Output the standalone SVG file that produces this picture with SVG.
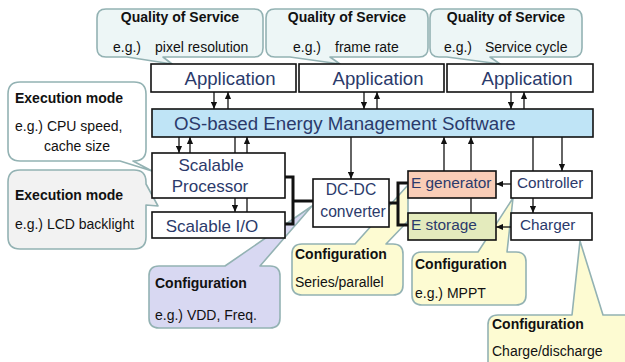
<svg xmlns="http://www.w3.org/2000/svg" width="625" height="362" viewBox="0 0 625 362">
<style>
.co{stroke:#93b2b3;stroke-width:1.6;stroke-linejoin:round}
.qos{fill:#edf6f6}
.ylw{fill:#fdfbd2}
.box{fill:#fff;stroke:#111;stroke-width:1.6}
.bt{font-family:"Liberation Sans",Arial,sans-serif;fill:#2b3a6b}
.ct{font-family:"Liberation Sans",Arial,sans-serif;fill:#111;font-size:14px}
.b{font-weight:bold}
.ln{stroke:#111;stroke-width:1.3;fill:none}
.th{stroke:#111;stroke-width:3;fill:none;stroke-linejoin:miter}
</style>
<defs>
<marker id="ah" viewBox="0 0 8 8" refX="8" refY="4" markerWidth="7" markerHeight="7" markerUnits="userSpaceOnUse" orient="auto">
<path d="M0,0.5 L8,4 L0,7.5 Z" fill="#111"/>
</marker>
</defs>

<g id="callouts">
<g id="qos1">
<path class="co qos" d="M106,9 H254 Q263,9 263,18 V48 Q263,57 254,57 H163 L172,64 L127,57 H106 Q97,57 97,48 V18 Q97,9 106,9 Z"/>
<text class="ct b" x="180" y="22" text-anchor="middle">Quality of Service</text>
<text class="ct" y="52"><tspan x="113">e.g.)</tspan><tspan x="155">pixel resolution</tspan></text>
</g>
<g id="qos2">
<path class="co qos" d="M275,9 H419 Q428,9 428,18 V48 Q428,57 419,57 H330 L340,64 L290,57 H275 Q266,57 266,48 V18 Q266,9 275,9 Z"/>
<text class="ct b" x="347" y="22" text-anchor="middle">Quality of Service</text>
<text class="ct" y="52"><tspan x="293">e.g.)</tspan><tspan x="335">frame rate</tspan></text>
</g>
<g id="qos3">
<path class="co qos" d="M439,9 H573 Q582,9 582,18 V48 Q582,57 573,57 H490 L500,64 L447,57 H439 Q430,57 430,48 V18 Q430,9 439,9 Z"/>
<text class="ct b" x="506" y="22" text-anchor="middle">Quality of Service</text>
<text class="ct" y="52"><tspan x="444">e.g.)</tspan><tspan x="485">Service cycle</tspan></text>
</g>
<g id="exec1">
<path class="co" fill="#fff" d="M20,82 H134 Q146,82 146,94 V149 Q146,161 134,161 H133 L152,171 L120,161 H20 Q8,161 8,149 V94 Q8,82 20,82 Z"/>
<text class="ct b" x="15" y="103">Execution mode</text>
<text class="ct" x="15" y="131">e.g.) CPU speed,</text>
<text class="ct" x="44" y="151">cache size</text>
</g>
<g id="exec2">
<path class="co" fill="#f2f2f2" d="M20,170 H134 Q146,170 146,182 V184 L158,206 L146,205 V237 Q146,249 134,249 H20 Q8,249 8,237 V182 Q8,170 20,170 Z"/>
<text class="ct b" x="15" y="200">Execution mode</text>
<text class="ct" x="15" y="229">e.g.) LCD backlight</text>
</g>
<g id="cfg-vdd">
<path class="co" fill="#d8d8f2" d="M159,266 H225 L312,206 L260,266 H270 Q280,266 280,276 V318 Q280,328 270,328 H159 Q149,328 149,318 V276 Q149,266 159,266 Z"/>
<text class="ct b" x="155" y="288">Configuration</text>
<text class="ct" x="155" y="320">e.g.) VDD, Freq.</text>
</g>
<g id="cfg-series">
<path class="co ylw" d="M302,244 H355 L408,185 L408,221 L386,244 H393 Q403,244 403,254 V285 Q403,295 393,295 H302 Q292,295 292,285 V254 Q292,244 302,244 Z"/>
<text class="ct b" x="295" y="259">Configuration</text>
<text class="ct" x="295" y="287">Series/parallel</text>
</g>
<g id="cfg-mppt">
<path class="co ylw" d="M422,252 H478 L513,198 L507,252 H516 Q526,252 526,262 V295 Q526,305 516,305 H422 Q412,305 412,295 V262 Q412,252 422,252 Z"/>
<text class="ct b" x="415" y="269">Configuration</text>
<text class="ct" x="415" y="298">e.g.) MPPT</text>
</g>
<g id="cfg-charge">
<path class="co ylw" d="M498,315 H572 L580,241 L603,315 H630 Q640,315 640,325 V370 H488 V325 Q488,315 498,315 Z"/>
<text class="ct b" x="492" y="329">Configuration</text>
<text class="ct" x="492" y="356">Charge/discharge</text>
</g>
</g>

<g id="connectors">
<line class="ln" x1="214" y1="92" x2="214" y2="109" marker-end="url(#ah)"/>
<line class="ln" x1="228" y1="109" x2="228" y2="92" marker-end="url(#ah)"/>
<line class="ln" x1="364" y1="92" x2="364" y2="109" marker-end="url(#ah)"/>
<line class="ln" x1="377" y1="109" x2="377" y2="92" marker-end="url(#ah)"/>
<line class="ln" x1="511" y1="92" x2="511" y2="109" marker-end="url(#ah)"/>
<line class="ln" x1="524" y1="109" x2="524" y2="92" marker-end="url(#ah)"/>
<line class="ln" x1="179" y1="137" x2="179" y2="153" marker-end="url(#ah)"/>
<line class="ln" x1="190" y1="153" x2="190" y2="137" marker-end="url(#ah)"/>
<line class="ln" x1="235" y1="137" x2="235" y2="153"/>
<line class="ln" x1="247" y1="153" x2="247" y2="137" marker-end="url(#ah)"/>
<line class="ln" x1="235" y1="198" x2="235" y2="212" marker-end="url(#ah)"/>
<line class="ln" x1="247" y1="198" x2="247" y2="212"/>
<line class="ln" x1="351" y1="137" x2="351" y2="179" marker-end="url(#ah)"/>
<line class="ln" x1="444" y1="171" x2="444" y2="137" marker-end="url(#ah)"/>
<line class="ln" x1="471" y1="171" x2="471" y2="137" marker-end="url(#ah)"/>
<line class="ln" x1="471" y1="198" x2="471" y2="213"/>
<line class="ln" x1="533" y1="137" x2="533" y2="171"/>
<line class="ln" x1="562" y1="137" x2="562" y2="171" marker-end="url(#ah)"/>
<line class="ln" x1="511" y1="184" x2="496" y2="184" marker-end="url(#ah)"/>
<line class="ln" x1="533" y1="198" x2="533" y2="213" marker-end="url(#ah)"/>
<line class="ln" x1="511" y1="227" x2="496" y2="227" marker-end="url(#ah)"/>
<path class="th" d="M285,177 H293 V224 H285"/>
<path class="th" d="M293,201 H313"/>
<path class="th" d="M389,203 H398"/>
<path class="th" d="M408,183 H398 V225 H408"/>
</g>

<g id="app1"><rect class="box" x="151" y="64" width="145" height="28"/><text class="bt" x="230" y="85" font-size="18.6" text-anchor="middle">Application</text></g>
<g id="app2"><rect class="box" x="299" y="64" width="145" height="28"/><text class="bt" x="378" y="85" font-size="18.6" text-anchor="middle">Application</text></g>
<g id="app3"><rect class="box" x="447" y="64" width="146" height="28"/><text class="bt" x="527" y="85" font-size="18.6" text-anchor="middle">Application</text></g>
<g id="os"><rect class="box" x="152" y="109" width="441" height="28" fill="#bfe4f6" style="fill:#bfe4f6"/><text class="bt" x="174" y="130" font-size="18.7">OS-based Energy Management Software</text></g>
<g id="processor"><rect class="box" x="152" y="153" width="133" height="45"/><text class="bt" font-size="17" text-anchor="middle"><tspan x="211" y="171">Scalable</tspan><tspan x="210" y="192">Processor</tspan></text></g>
<g id="io"><rect class="box" x="152" y="212" width="133" height="26"/><text class="bt" x="212" y="232" font-size="17" text-anchor="middle">Scalable I/O</text></g>
<g id="dcdc"><rect class="box" x="313" y="179" width="76" height="48"/><text class="bt" font-size="15.7" text-anchor="middle"><tspan x="351" y="195">DC-DC</tspan><tspan x="353" y="217">converter</tspan></text></g>
<g id="egen"><rect class="box" x="408" y="171" width="88" height="27" style="fill:#f9cdb7"/><text class="bt" x="411" y="188" font-size="15.4">E generator</text></g>
<g id="estor"><rect class="box" x="408" y="213" width="88" height="27" style="fill:#e4ebbd"/><text class="bt" x="411" y="230" font-size="15.4">E storage</text></g>
<g id="controller"><rect class="box" x="511" y="171" width="81" height="27"/><text class="bt" x="517" y="188" font-size="15.3">Controller</text></g>
<g id="charger"><rect class="box" x="511" y="213" width="81" height="27"/><text class="bt" x="520" y="230" font-size="15.3">Charger</text></g>
</svg>
